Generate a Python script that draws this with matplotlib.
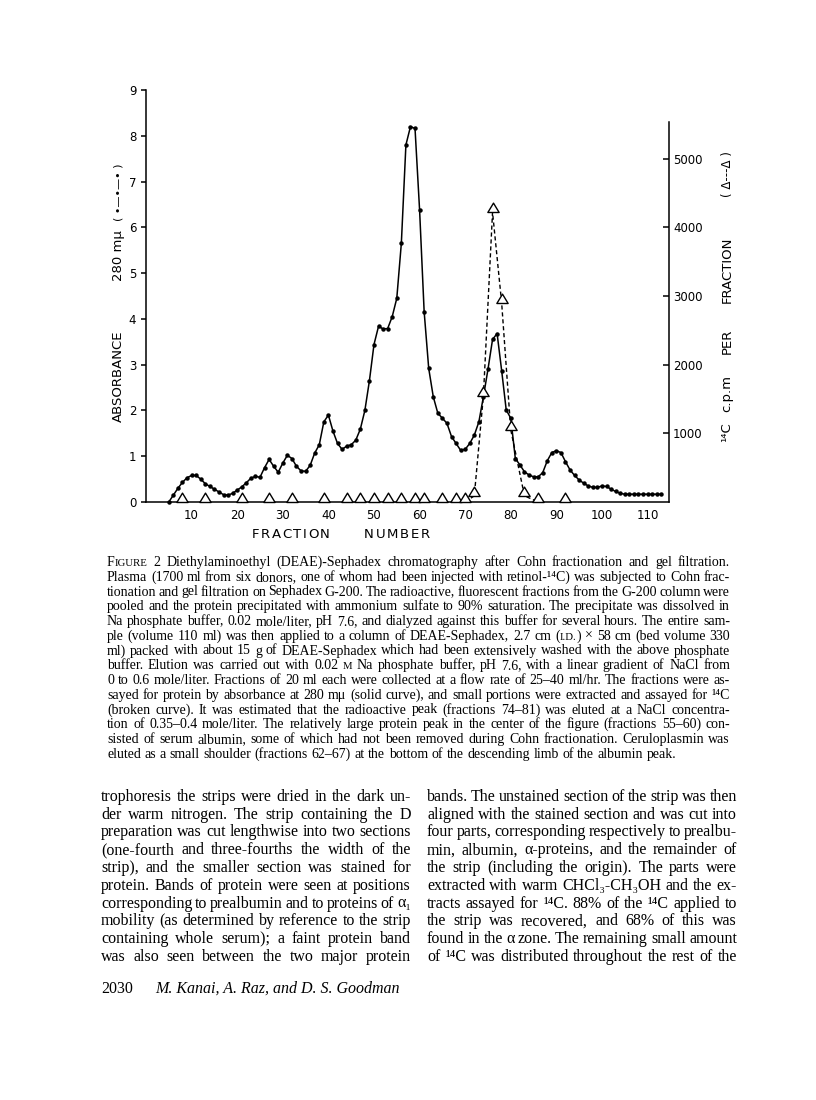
import numpy as np
import matplotlib
matplotlib.use("Agg")
import matplotlib.pyplot as plt
from matplotlib.path import Path

W, H = 816, 1100

# solid curve: absorbance at 280 mu, one reading per fraction
fractions = np.arange(5, 114)
absorbance = [
    0.00, 0.15, 0.30, 0.43, 0.53, 0.58, 0.58, 0.50, 0.40, 0.34,   # 5-14
    0.28, 0.22, 0.16, 0.15, 0.19, 0.26, 0.33, 0.42, 0.52, 0.56,   # 15-24
    0.54, 0.75, 0.93, 0.78, 0.65, 0.85, 1.02, 0.95, 0.78, 0.68,   # 25-34
    0.67, 0.80, 1.07, 1.25, 1.75, 1.90, 1.55, 1.28, 1.15, 1.22,   # 35-44
    1.25, 1.35, 1.59, 2.00, 2.65, 3.44, 3.84, 3.78, 3.79, 4.05,   # 45-54
    4.45, 5.65, 7.80, 8.20, 8.16, 6.38, 4.16, 2.92, 2.30, 1.94,   # 55-64
    1.83, 1.72, 1.43, 1.28, 1.13, 1.15, 1.28, 1.46, 1.75, 2.30,   # 65-74
    2.90, 3.55, 3.68, 2.87, 2.01, 1.83, 0.95, 0.81, 0.66, 0.59,   # 75-84
    0.55, 0.55, 0.64, 0.90, 1.08, 1.12, 1.08, 0.88, 0.70, 0.58,   # 85-94
    0.48, 0.41, 0.35, 0.32, 0.32, 0.35, 0.34, 0.28, 0.23, 0.19,   # 95-104
    0.17, 0.17, 0.17, 0.17, 0.17, 0.17, 0.17, 0.17, 0.17,         # 105-113
]

# broken curve: 14C counts
c14_fractions = [8, 13, 21, 27, 32, 39, 44, 47, 50, 53, 56, 59, 61, 65, 68,
                 70, 72, 74, 76, 78, 80, 83, 86, 92]
c14_cpm = [0, 0, 0, 0, 0, 0, 0, 0, 0, 0, 0, 0, 0, 0, 0,
           0, 90, 1550, 4220, 2900, 1050, 90, 0, 0]
dashed_from, dashed_to = 70, 86

x_ticks = [10, 20, 30, 40, 50, 60, 70, 80, 90, 100, 110]
left_ticks = list(range(0, 10))
right_ticks = [1000, 2000, 3000, 4000, 5000]

caption_lines = [
    "FIGURE 2  Diethylaminoethyl (DEAE)-Sephadex chromatography after Cohn fractionation and gel filtration.",
    "Plasma (1700 ml from six donors, one of whom had been injected with retinol-¹⁴C) was subjected to Cohn frac-",
    "tionation and gel filtration on Sephadex G-200. The radioactive, fluorescent fractions from the G-200 column were",
    "pooled and the protein precipitated with ammonium sulfate to 90% saturation. The precipitate was dissolved in",
    "Na phosphate buffer, 0.02 mole/liter, pH 7.6, and dialyzed against this buffer for several hours. The entire sam-",
    "ple (volume 110 ml) was then applied to a column of DEAE-Sephadex, 2.7 cm (I.D.) × 58 cm (bed volume 330",
    "ml) packed with about 15 g of DEAE-Sephadex which had been extensively washed with the above phosphate",
    "buffer. Elution was carried out with 0.02 M Na phosphate buffer, pH 7.6, with a linear gradient of NaCl from",
    "0 to 0.6 mole/liter. Fractions of 20 ml each were collected at a flow rate of 25–40 ml/hr. The fractions were as-",
    "sayed for protein by absorbance at 280 mμ (solid curve), and small portions were extracted and assayed for ¹⁴C",
    "(broken curve). It was estimated that the radioactive peak (fractions 74–81) was eluted at a NaCl concentra-",
    "tion of 0.35–0.4 mole/liter. The relatively large protein peak in the center of the figure (fractions 55–60) con-",
    "sisted of serum albumin, some of which had not been removed during Cohn fractionation. Ceruloplasmin was",
    "eluted as a small shoulder (fractions 62–67) at the bottom of the descending limb of the albumin peak.",
]

left_col = [
    "trophoresis the strips were dried in the dark un-",
    "der warm nitrogen. The strip containing the D",
    "preparation was cut lengthwise into two sections",
    "(one-fourth and three-fourths the width of the",
    "strip), and the smaller section was stained for",
    "protein. Bands of protein were seen at positions",
    "corresponding to prealbumin and to proteins of α₁",
    "mobility (as determined by reference to the strip",
    "containing whole serum); a faint protein band",
    "was also seen between the two major protein",
]

right_col = [
    "bands. The unstained section of the strip was then",
    "aligned with the stained section and was cut into",
    "four parts, corresponding respectively to prealbu-",
    "min, albumin, α-proteins, and the remainder of",
    "the strip (including the origin). The parts were",
    "extracted with warm CHCl₃-CH₃OH and the ex-",
    "tracts assayed for ¹⁴C. 88% of the ¹⁴C applied to",
    "the strip was recovered, and 68% of this was",
    "found in the α zone. The remaining small amount",
    "of ¹⁴C was distributed throughout the rest of the",
]

# words set in small capitals: list of (piece, scale)
small_caps = {
    "FIGURE": [("F", 1.0), ("IGURE", 0.78)],
    "(I.D.)": [("(", 1.0), ("I.D.", 0.78), (")", 1.0)],
    "M": [("M", 0.78)],
}


def fx(px):
    return px / W


def fy(py):
    return 1 - py / H


fig = plt.figure(figsize=(W / 100, H / 100), dpi=100)
fig.patch.set_facecolor("white")
renderer = fig.canvas.get_renderer()

# ---- chart ----
ax = fig.add_axes([fx(146), fy(502), (669 - 146) / W, (502 - 90) / H])
ax.set_xlim(0, 114.7)
ax.set_ylim(0, 9)
ax.plot(fractions, absorbance, color="black", lw=1.1, marker="o", ms=2.2,
        zorder=3, clip_on=False)
for s in ["top", "right"]:
    ax.spines[s].set_visible(False)
for s in ["left", "bottom"]:
    ax.spines[s].set_linewidth(1.1)
ax.set_xticks(x_ticks)
ax.set_xticklabels([str(t) for t in x_ticks])
ax.set_yticks(left_ticks)
ax.tick_params(axis="x", length=0, pad=5, labelsize=8.5)
ax.tick_params(axis="y", direction="out", length=3.5, width=1.1, pad=3.5,
               labelsize=8.5)

ax2 = ax.twinx()
ax2.set_ylim(0, 6000)
for s in ["top", "left", "bottom"]:
    ax2.spines[s].set_visible(False)
ax2.spines["right"].set_bounds(0, 5540)
ax2.spines["right"].set_linewidth(1.1)
ax2.set_yticks(right_ticks)
ax2.tick_params(axis="y", direction="in", length=4, width=1.1, pad=3,
                labelsize=8.5)

tri = Path([(-1, 0), (1, 0), (0, 1.66), (-1, 0)],
           [Path.MOVETO, Path.LINETO, Path.LINETO, Path.CLOSEPOLY])
c14_f = np.array(c14_fractions)
c14_v = np.array(c14_cpm)
sel = (c14_f >= dashed_from) & (c14_f <= dashed_to)
ax2.plot(c14_f[sel], c14_v[sel], color="black", lw=1.0, ls=(0, (3, 2)),
         zorder=2)
ax2.plot(c14_f, c14_v, ls="none", marker=tri, ms=13.5, mfc="white",
         mec="black", mew=1.0, zorder=4, clip_on=False)

# axis labels
sans = "DejaVu Sans"
fig.text(fx(118), fy(376), "ABSORBANCE", rotation=90, ha="center",
         va="center", fontsize=9.5, family=sans)
fig.text(fx(118), fy(256), "280 mμ", rotation=90, ha="center",
         va="center", fontsize=9.5, family=sans)
fig.text(fx(118), fy(192), "( •—•—• )", rotation=90, ha="center",
         va="center", fontsize=8, family=sans)

fig.text(fx(727), fy(432), "¹⁴C", rotation=90, ha="center", va="center",
         fontsize=9.5, family=sans)
fig.text(fx(727), fy(394), "c.p.m", rotation=90, ha="center", va="center",
         fontsize=9.5, family=sans)
fig.text(fx(727), fy(341), "PER", rotation=90, ha="center", va="center",
         fontsize=9.5, family=sans)
fig.text(fx(727), fy(270), "FRACTION", rotation=90, ha="center",
         va="center", fontsize=9.5, family=sans)
fig.text(fx(727), fy(174), "( Δ---Δ )", rotation=90, ha="center",
         va="center", fontsize=8.5, family=sans)


def spaced(x_left, y, s, size, track):
    # letter-spaced horizontal label
    x = x_left
    for ch in s:
        t = fig.text(fx(x), fy(y), ch, fontsize=size, family=sans,
                     va="center", ha="left")
        x += t.get_window_extent(renderer).width + track


spaced(252, 534, "FRACTION", 9.5, 1.5)
spaced(364, 534, "NUMBER", 9.5, 1.8)

# ---- text blocks ----
serif = "Liberation Serif"
serif_fb = ["Liberation Serif", "DejaVu Serif"]


def family_for(w):
    return serif_fb if any(ord(c) > 0x2000 for c in w) else serif


def text_width(s, size):
    t = fig.text(0, 0, s, fontsize=size, family=serif)
    w = t.get_window_extent(renderer).width
    t.remove()
    return w


def fit_size(lines, target):
    widths = [text_width(l, 10) for l in lines]
    return 10 * 0.985 * target / np.median(widths)


def draw_line(line, x0, x1, y, size, justify=True, style="normal"):
    words = []
    for w in line.split():
        pieces = small_caps.get(w, [(w, 1.0)])
        arts = [fig.text(0, fy(y), p, fontsize=size * k,
                         family=family_for(p), style=style,
                         va="baseline", ha="left") for p, k in pieces]
        ws = [a.get_window_extent(renderer).width for a in arts]
        words.append((arts, ws))
    total = sum(sum(ws) for _, ws in words)
    if justify and len(words) > 1:
        gap = (x1 - x0 - total) / (len(words) - 1)
    else:
        gap = 0.26 * size * 100 / 72
    x = x0
    for arts, ws in words:
        for a, wd in zip(arts, ws):
            a.set_x(fx(x))
            x += wd
        x += gap


cap_x0, cap_x1 = 107, 730
cap_size = fit_size(caption_lines[:-1], cap_x1 - cap_x0)
for i, line in enumerate(caption_lines):
    draw_line(line, cap_x0, cap_x1, 566 + 14.75 * i, cap_size,
              justify=(i < len(caption_lines) - 1))

lc_x0, lc_x1 = 101, 411
rc_x0, rc_x1 = 427, 737
body_size = fit_size(left_col + right_col, lc_x1 - lc_x0)
for i, line in enumerate(left_col):
    draw_line(line, lc_x0, lc_x1, 801 + 17.75 * i, body_size)
for i, line in enumerate(right_col):
    draw_line(line, rc_x0, rc_x1, 801 + 17.75 * i, body_size)

fig.text(fx(101), fy(993), "2030", fontsize=body_size, family=serif,
         va="baseline")
fig.text(fx(155), fy(993), "M. Kanai, A. Raz, and D. S. Goodman",
         fontsize=body_size, family=serif, style="italic", va="baseline")

fig.savefig("out.png", dpi=100, facecolor="white")
